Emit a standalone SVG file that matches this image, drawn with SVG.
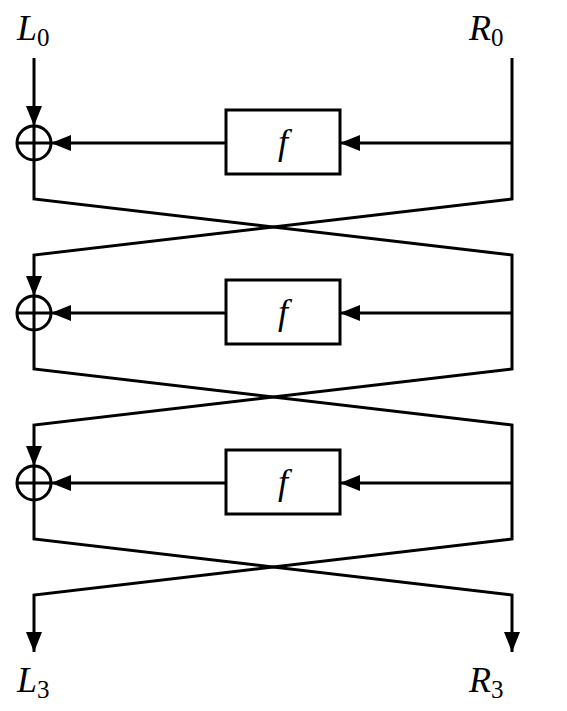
<svg xmlns="http://www.w3.org/2000/svg" width="567" height="711" viewBox="0 0 567 711">
<style>
.ln{fill:none;stroke:#000;stroke-width:3;stroke-linejoin:miter}
.arr{marker-end:url(#ah)}
.box{fill:#fff;stroke:#000;stroke-width:3}
.xor{fill:none;stroke:#000;stroke-width:3}
.lbl{font-family:"Liberation Serif","DejaVu Serif",serif;font-style:italic;font-size:36px;fill:#000}
.sub{font-style:normal;font-size:25px}
</style>
<defs>
<marker id="ah" markerUnits="userSpaceOnUse" markerWidth="20" markerHeight="16" refX="20" refY="8" orient="auto" viewBox="0 0 20 16">
<path d="M0,0 L20,8 L0,16 z" fill="#000"/>
</marker>
</defs>
<rect width="567" height="711" fill="#fff"/>
<g id="connectors">
<path class="ln arr" d="M34,58 V126"/>
<path class="ln arr" d="M512,58 V199 L34,255 V296"/>
<path class="ln arr" d="M34,160 V199 L512,255 V369 L34,425 V466"/>
<path class="ln arr" d="M34,330 V369 L512,425 V539 L34,595 V652"/>
<path class="ln arr" d="M34,500 V539 L512,595 V652"/>
<path class="ln arr" d="M512,143 H340"/>
<path class="ln arr" d="M226,143 H51"/>
<path class="ln arr" d="M512,313 H340"/>
<path class="ln arr" d="M226,313 H51"/>
<path class="ln arr" d="M512,483 H340"/>
<path class="ln arr" d="M226,483 H51"/>
</g>
<g id="L0"><text class="lbl" x="17" y="40">L<tspan class="sub" dy="6">0</tspan></text></g>
<g id="R0"><text class="lbl" x="469" y="40">R<tspan class="sub" dy="6">0</tspan></text></g>
<g id="xor1"><circle class="xor" cx="34" cy="143" r="17"/><path class="xor" d="M17,143 H51 M34,126 V160"/></g>
<g id="f1"><rect class="box" x="226" y="110" width="114" height="64"/><text class="lbl" x="283" y="154" text-anchor="middle">f</text></g>
<g id="xor2"><circle class="xor" cx="34" cy="313" r="17"/><path class="xor" d="M17,313 H51 M34,296 V330"/></g>
<g id="f2"><rect class="box" x="226" y="280" width="114" height="64"/><text class="lbl" x="283" y="324" text-anchor="middle">f</text></g>
<g id="xor3"><circle class="xor" cx="34" cy="483" r="17"/><path class="xor" d="M17,483 H51 M34,466 V500"/></g>
<g id="f3"><rect class="box" x="226" y="450" width="114" height="64"/><text class="lbl" x="283" y="494" text-anchor="middle">f</text></g>
<g id="L3"><text class="lbl" x="17" y="692">L<tspan class="sub" dy="6">3</tspan></text></g>
<g id="R3"><text class="lbl" x="469" y="692">R<tspan class="sub" dy="6">3</tspan></text></g>
</svg>
